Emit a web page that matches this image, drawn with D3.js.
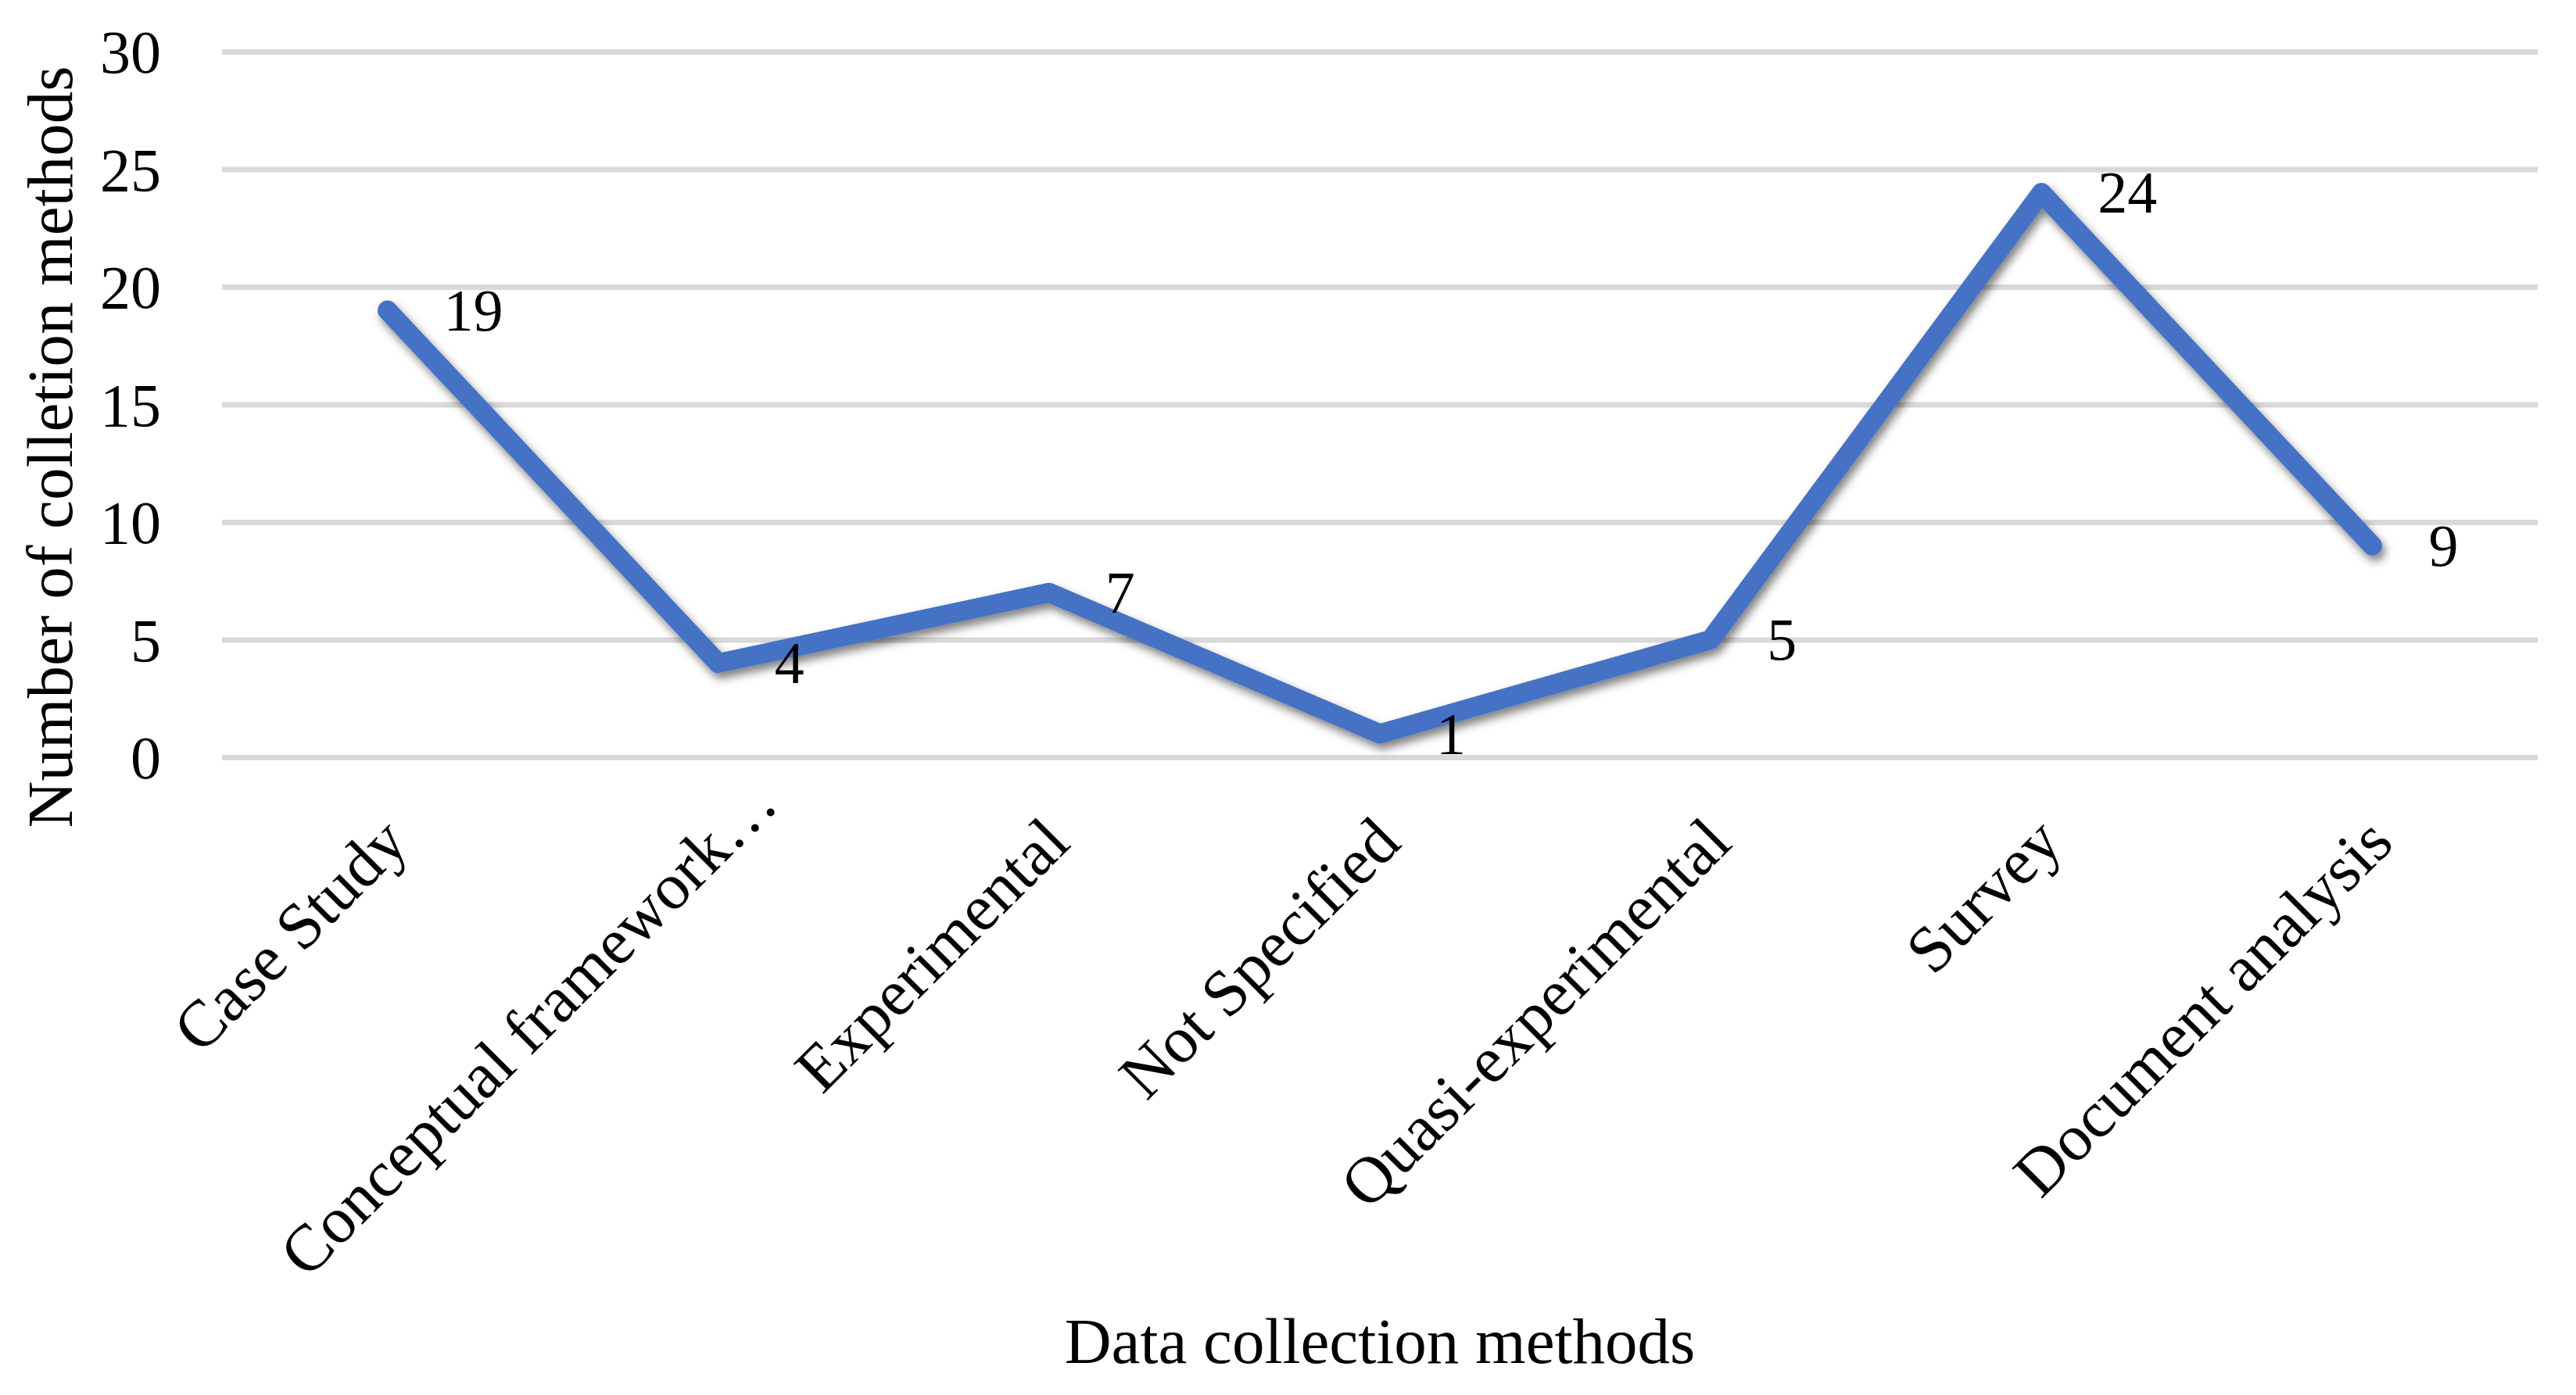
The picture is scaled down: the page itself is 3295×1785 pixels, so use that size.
<!DOCTYPE html>
<html>
<head>
<meta charset="utf-8">
<script src="https://cdn.jsdelivr.net/npm/d3@7"></script>
<style>
  body { margin: 0; background: #fff; }
  text { font-family: "Liberation Serif", "Times New Roman", serif; fill: #000; }
</style>
</head>
<body>
<div id="chart"></div>
<script>
"use strict";

// data
let categories = ["Case Study", "Conceptual framework…", "Experimental", "Not Specified",
  "Quasi-experimental", "Survey", "Document analysis"];
let counts = [19, 4, 7, 1, 5, 24, 9];
let yTicks = [0, 5, 10, 15, 20, 25, 30];

let width = 3295,
  height = 1785;

let margin = {
  top: 66,
  bottom: 816,
  left: 284,
  right: 49
};

let svg = d3.select("#chart")
  .append("svg")
  .attr("width", width)
  .attr("height", height)
  .attr("viewBox", [0, 0, width, height].join(" "));

svg.append("rect")
  .attr("width", width)
  .attr("height", height)
  .attr("fill", "#fff");

// soft shadow under the line
let defs = svg.append("defs");
defs.append("filter")
  .attr("id", "lineShadow")
  .attr("x", "-10%").attr("y", "-10%")
  .attr("width", "120%").attr("height", "130%")
  .append("feDropShadow")
  .attr("dx", 4)
  .attr("dy", 7)
  .attr("stdDeviation", 6)
  .attr("flood-color", "#000")
  .attr("flood-opacity", 0.5);

let xScale = d3.scaleBand()
  .domain(categories)
  .range([margin.left, width - margin.right])
  .padding(0);

let yScale = d3.scaleLinear()
  .domain([0, 30])
  .range([height - margin.bottom, margin.top]);

let cx = d => xScale(d) + xScale.bandwidth() / 2;

// y axis + gridlines
let yAxis = d3.axisLeft(yScale)
  .tickValues(yTicks)
  .tickSizeInner(-(width - margin.left - margin.right))
  .tickSizeOuter(0)
  .tickPadding(78);

let yG = svg.append("g")
  .attr("transform", "translate(" + margin.left + ", 0)")
  .call(yAxis);

yG.select(".domain").remove();
yG.selectAll(".tick line")
  .attr("stroke", "#d9d9d9")
  .attr("stroke-width", 7);
yG.selectAll(".tick text")
  .attr("font-size", 78)
  .attr("dy", "0.34em")
  .style("font-family", "'Liberation Serif', serif");

// x axis labels, turned 45 degrees
let xAxis = d3.axisBottom(xScale)
  .tickSize(0);

let xG = svg.append("g")
  .attr("transform", "translate(0, " + (height - margin.bottom) + ")")
  .call(xAxis);

xG.select(".domain").remove();
xG.selectAll(".tick text")
  .attr("font-size", 84)
  .attr("text-anchor", "end")
  .attr("x", 0)
  .attr("y", 0)
  .attr("dx", d => d.endsWith("…") ? 70 : 0) // truncated label sits further out
  .attr("dy", "0.3em")
  .attr("transform", "translate(12, 95) rotate(-45)")
  .style("font-family", "'Liberation Serif', serif");

// the series line
let line = d3.line()
  .x((d, i) => cx(categories[i]))
  .y(d => yScale(d));

svg.append("path")
  .datum(counts)
  .attr("class", "seriesLine")
  .attr("d", line)
  .attr("fill", "none")
  .attr("stroke", "#4472c4")
  .attr("stroke-width", 25)
  .attr("stroke-linejoin", "round")
  .attr("stroke-linecap", "round")
  .attr("filter", "url(#lineShadow)");

// data labels, right of each point
svg.append("g")
  .selectAll("text")
  .data(counts)
  .enter().append("text")
  .attr("x", (d, i) => cx(categories[i]) + 72)
  .attr("y", d => yScale(d))
  .attr("dy", "0.34em")
  .attr("font-size", 76)
  .text(d => d);

// axis titles
svg.append("text")
  .attr("x", (margin.left + width - margin.right) / 2)
  .attr("y", 1744)
  .attr("text-anchor", "middle")
  .attr("font-size", 83)
  .text("Data collection methods");

svg.append("text")
  .attr("transform", "translate(92, 572) rotate(-90)")
  .attr("text-anchor", "middle")
  .attr("font-size", 83)
  .text("Number of colletion methods");
</script>
</body>
</html>
